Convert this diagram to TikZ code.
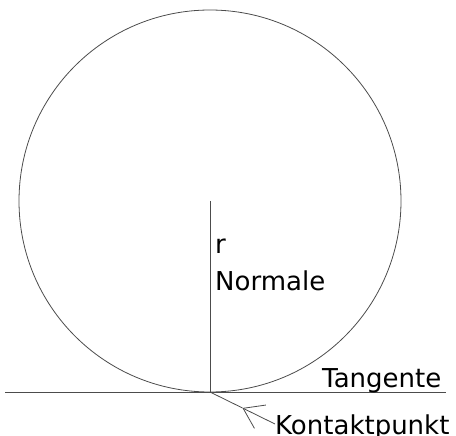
\documentclass[tikz,border=0pt]{standalone}
\usepackage{fontspec}
\setmainfont{DejaVu Sans}
\usetikzlibrary{arrows.meta, calc}

\begin{document}
\begin{tikzpicture}[x=1pt, y=-1pt,
    lin/.style={draw=black!70, line width=0.8pt},
    lab/.style={anchor=base west, inner sep=0pt, font=\fontsize{26}{31}\selectfont}]
    \useasboundingbox (0, 0) rectangle (456, 436);
    \coordinate (m) at (210, 201);
    \coordinate (c) at (210, 392);
    \coordinate (tl) at (5, 392);
    \coordinate (tr) at (446, 392);
    \coordinate (kp) at (275, 424);
    \draw[lin] (m) circle[radius=191pt];
    \draw[lin] (m) -- (c);
    \draw[lin] (tl) -- (tr);
    \node[lab] (r) at (215, 253) {r};
    \node[lab] (nor) at (215, 290) {Normale};
    \node[lab] (tan) at (322, 387) {Tangente};
    \node[lab] (kon) at (275, 434) {Kontaktpunkt};
    % Pfeil zum Kontaktpunkt
    \draw[lin, -{Straight Barb[length=19pt, width=26pt]}] (kp) -- ($(kp)!0.5!(c)$);
    \draw[lin] ($(kp)!0.5!(c)$) -- (c);
\end{tikzpicture}
\end{document}
